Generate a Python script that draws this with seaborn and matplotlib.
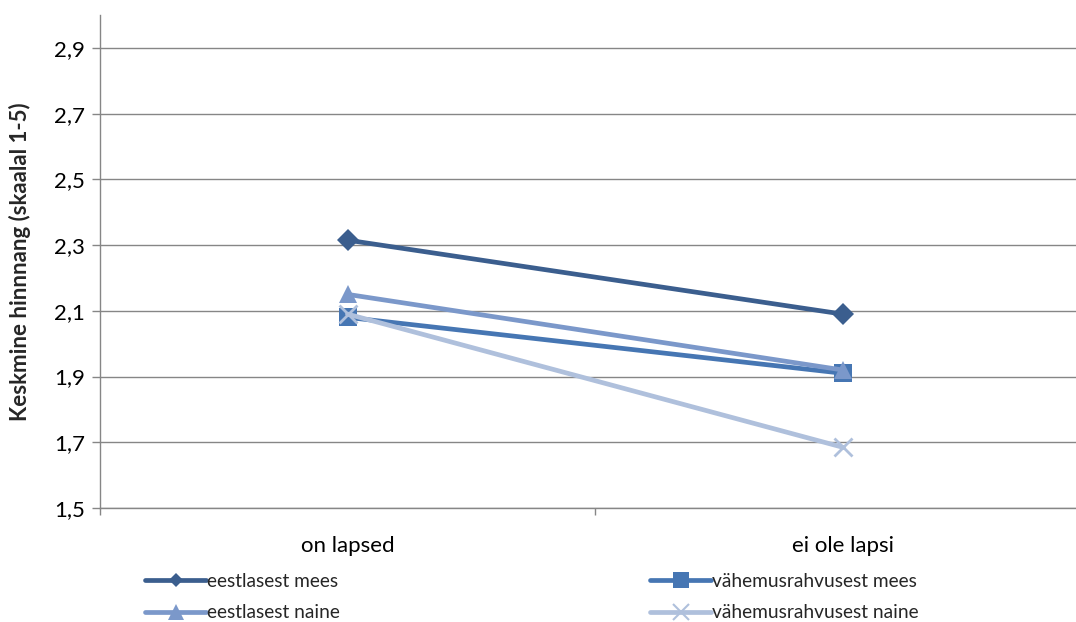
import matplotlib
matplotlib.use("Agg")
import matplotlib.pyplot as plt
from matplotlib.lines import Line2D
import seaborn as sns
import pandas as pd
from matplotlib.ticker import FixedLocator, FuncFormatter

categories = ["on lapsed", "ei ole lapsi"]
eestlasest_mees = [2.315, 2.09]
vahemus_mees = [2.08, 1.91]
eestlasest_naine = [2.15, 1.92]
vahemus_naine = [2.09, 1.685]
series_names = ["eestlasest mees", "vähemusrahvusest mees", "eestlasest naine", "vähemusrahvusest naine"]
y_ticks = [1.5, 1.7, 1.9, 2.1, 2.3, 2.5, 2.7, 2.9]

sns.set_theme(style="white")
plt.rcParams['font.family'] = ['Lato', 'DejaVu Sans']

fig = plt.figure(figsize=(10.76, 6.22), dpi=100)
ax = fig.add_axes([100/1076, 1-508/622, 990/1076, (508-15)/622])

values = [eestlasest_mees, vahemus_mees, eestlasest_naine, vahemus_naine]
colors = ["#3B5E8E", "#4676B3", "#7B98CA", "#AFC0DC"]
markers = ["D", "s", "^", "x"]
msizes = [11, 13, 13, 13]
leg_msizes = [7, 11, 11, 11]

handles = {}
for name, vals, c, m, ms, lms in zip(series_names, values, colors, markers, msizes, leg_msizes):
    df = pd.DataFrame({"x": list(range(len(categories))), "y": vals})
    sns.lineplot(data=df, x="x", y="y", ax=ax, color=c, linewidth=3.4,
                 marker=m, markersize=ms, markeredgecolor=c, markeredgewidth=2 if m == "x" else 0,
                 legend=False)
    handles[name] = Line2D([], [], color=c, linewidth=3.4, marker=m, markersize=lms,
                           markeredgecolor=c, markeredgewidth=1.5 if m == "x" else 0)

ax.set_xlim(-0.5, len(categories) - 0.5)
ax.set_ylim(1.5, 3.0)
ax.yaxis.set_major_locator(FixedLocator(y_ticks))
ax.yaxis.set_major_formatter(FuncFormatter(lambda v, p: f"{v:.1f}".replace(".", ",")))
ax.set_xticks(range(len(categories)))
ax.set_xticklabels(categories)
ax.set_xticks([i - 0.5 for i in range(len(categories) + 1)], minor=True)
ax.tick_params(axis="x", which="major", length=0, pad=20, labelsize=16, colors="#000000")
ax.tick_params(axis="x", which="minor", length=5, width=1, color="#868686", direction="out", bottom=True)
ax.tick_params(axis="y", which="major", length=6, width=1, color="#868686", direction="out", left=True,
               labelsize=16, pad=5, labelcolor="#000000")
ax.grid(axis="y", color="#868686", linewidth=1)
ax.set_axisbelow(True)
for s in ["top", "right"]:
    ax.spines[s].set_visible(False)
for s in ["left", "bottom"]:
    ax.spines[s].set_color("#868686")
    ax.spines[s].set_linewidth(1)
ax.set_xlabel("")
ax.set_ylabel("Keskmine hinnnang (skaalal 1-5)", fontsize=16, fontweight="bold")
ax.yaxis.set_label_coords((31 - 100) / 990, 0.5)

col1 = ["eestlasest mees", "eestlasest naine"]
col2 = ["vähemusrahvusest mees", "vähemusrahvusest naine"]
for names, xpx in [(col1, 145), (col2, 650)]:
    fig.legend([handles[n] for n in names], names, ncol=1, loc="upper left",
               bbox_to_anchor=(xpx/1076, 1-573/622), frameon=False, fontsize=13.8,
               handlelength=3.2, handletextpad=0.05, labelspacing=0.75,
               borderaxespad=0, borderpad=0)

fig.savefig("out.png", dpi=100)
